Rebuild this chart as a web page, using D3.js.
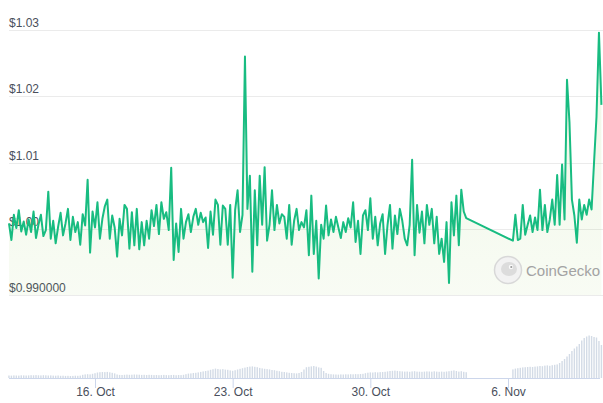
<!DOCTYPE html>
<html>
<head>
<meta charset="utf-8">
<script src="https://cdn.jsdelivr.net/npm/d3@7"></script>
<style>
  body { margin: 0; background: #fff; }
  text { font-family: "Liberation Sans", Arial, sans-serif; }
</style>
</head>
<body>
<div id="chart"></div>
<script>
const width = 603, height = 403;

// series sampled every 3 hours, starting 11 Oct 15:00
const startDate = new Date(2023, 9, 11, 15);
const stepHours = 3;

const prices = [
  1.0008, 0.9983, 1.0021, 1.0001, 1.0028, 0.9996, 1.0011, 0.9991,
  1.0014, 0.9995, 1.0026, 0.9986, 1.0006, 1.0021, 0.9989, 0.9998,
  1.0056, 0.9985, 1.0012, 0.9978, 1.0003, 1.0024, 0.9990, 1.0008,
  1.0030, 0.9983, 1.0018, 0.9995, 1.0010, 0.9976, 1.0022, 1.0005,
  1.0074, 0.9964, 1.0026, 1.0002, 1.0040, 0.9985, 1.0015, 1.0034,
  1.0044, 0.9985, 1.0020, 1.0002, 0.9958, 1.0015, 0.9990, 1.0036,
  1.0030, 0.9970, 1.0025, 0.9975, 1.0030, 0.9969, 1.0010, 0.9975,
  1.0012, 0.9985, 1.0028, 1.0004, 1.0036, 0.9992, 1.0040, 1.0015,
  1.0025, 0.9998, 1.0092, 0.9953, 1.0008, 0.9965, 1.0030, 0.9985,
  1.0010, 1.0022, 0.9995, 1.0018, 1.0030, 1.0006, 1.0024, 1.0010,
  1.0017, 0.9971, 1.0026, 0.9991, 1.0044, 1.0036, 0.9976, 1.0035,
  1.0030, 0.9976, 1.0036, 0.9926, 1.0028, 1.0058, 0.9995, 1.0021,
  1.0260, 1.0030, 1.0080, 0.9935, 1.0058, 0.9975, 1.0080, 1.0006,
  1.0093, 0.9982, 1.0006, 1.0058, 0.9998, 1.0036, 1.0008, 1.0022,
  1.0018, 0.9985, 1.0036, 0.9976, 1.0012, 1.0030, 0.9998, 1.0010,
  1.0002, 1.0028, 0.9960, 1.0050, 0.9962, 1.0012, 0.9925, 1.0006,
  0.9985, 1.0035, 0.9990, 1.0014, 0.9995, 1.0018, 1.0002, 0.9986,
  1.0010, 0.9995, 1.0016, 1.0002, 1.0040, 0.9980, 1.0012, 0.9962,
  1.0020, 1.0028, 0.9998, 1.0046, 0.9985, 1.0018, 0.9975, 1.0008,
  1.0022, 0.9962, 1.0006, 1.0036, 0.9970, 1.0020, 0.9992, 1.0030,
  1.0012, 0.9985, 0.9975, 1.0006, 1.0104, 0.9960, 1.0036, 0.9994,
  1.0026, 0.9978, 1.0036, 1.0006, 1.0030, 0.9978, 1.0018, 0.9962,
  0.9985, 0.9950, 1.0010, 0.9918, 1.0040, 0.9990, 1.0050, 0.9975,
  1.0059, 1.0026, 1.0016, null, null, null, null, null,
  null, null, null, null, null, null, null, null,
  null, null, null, null, null, 0.9982, 1.0021, 0.9983,
  0.9985, 1.0036, 0.9991, 1.0006, 1.0020, 0.9995, 1.0017, 0.9998,
  1.0059, 0.9998, 1.0036, 0.9995, 1.0014, 1.0044, 1.0006, 1.0081,
  1.0006, 1.0097, 1.0014, 1.0225, 1.0161, 1.0044, 1.0020, 0.9979,
  1.0044, 1.0014, 1.0036, 1.0021, 1.0044, 1.0029, 1.0100, 1.0169,
  1.0296, 1.0187
];

// volume in millions, same 3-hour steps
const volumes = [
  2.5, 2.4, 2.6, 2.5, 2.4, 2.7, 2.6, 2.5,
  2.6, 2.8, 2.7, 2.9, 2.7, 2.6, 2.8, 2.7,
  2.5, 2.6, 2.4, 2.3, 2.5, 2.2, 2.3, 2.1,
  2.2, 2.0, 2.1, 2.3, 2.2, 2.4, 3.2, 3.6,
  3.8, 3.6, 4.2, 4.8, 5.5, 5.8, 6.0, 5.9,
  6.1, 5.7, 5.2, 4.6, 3.5, 3.1, 3.0, 3.2,
  3.4, 3.2, 3.3, 3.5, 3.4, 3.3, 3.1, 3.2,
  3.0, 3.2, 3.1, 2.9, 3.0, 2.8, 2.9, 3.1,
  2.9, 2.8, 3.0, 3.1, 2.8, 3.0, 2.9, 3.2,
  3.8, 4.4, 4.6, 5.0, 5.2, 5.6, 6.1, 6.6,
  7.0, 7.4, 8.2, 8.8, 9.4, 9.0, 8.6, 8.9,
  8.4, 8.2, 7.6, 7.2, 7.8, 8.5, 9.2, 9.8,
  10.4, 11.0, 11.4, 11.6, 11.2, 10.8, 10.1, 9.6,
  9.2, 8.9, 8.6, 8.0, 7.8, 7.2, 6.8, 6.2,
  6.0, 5.6, 5.2, 5.0, 4.8, 4.6, 5.0, 6.0,
  8.5, 10.8, 11.2, 11.6, 12.0, 11.4, 10.6, 10.2,
  7.0, 5.0, 4.2, 3.8, 3.6, 3.5, 3.4, 3.6,
  3.5, 3.7, 3.6, 3.8, 3.7, 3.9, 3.8, 4.0,
  4.2, 4.8, 5.3, 5.6, 5.5, 5.8, 5.6, 5.9,
  6.0, 6.2, 6.6, 7.0, 7.2, 7.4, 7.1, 6.8,
  6.6, 6.4, 6.5, 6.2, 6.6, 6.8, 6.4, 6.3,
  6.2, 6.4, 6.6, 6.5, 6.3, 6.7, 6.4, 6.2,
  6.4, 6.2, 6.5, 6.8, 7.2, 7.6, 7.0, 6.4,
  6.8, 6.2, 5.8, null, null, null, null, null,
  null, null, null, null, null, null, null, null,
  null, null, null, null, null, 8.6, 9.4, 9.8,
  10.2, 10.6, 10.8, 11.0, 11.2, 11.0, 11.4, 11.6,
  12.0, 11.8, 12.4, 12.6, 12.2, 12.8, 13.2, 13.6,
  15.0, 17.0, 19.0, 21.5, 24.0, 27.0, 29.5, 31.5,
  34.0, 37.5, 40.0, 41.5, 42.5, 42.0, 41.0, 40.5,
  37.0, 33.0
];

const yTicks = [0.99, 1.00, 1.01, 1.02, 1.03];
const yTickLabels = ["$0.990000", "$1.00", "$1.01", "$1.02", "$1.03"];
const xTickDates = [new Date(2023, 9, 16), new Date(2023, 9, 23), new Date(2023, 9, 30), new Date(2023, 10, 6)];
const xTickLabels = ["16. Oct", "23. Oct", "30. Oct", "6. Nov"];

const timeAt = i => new Date(startDate.getTime() + i * stepHours * 3600e3);

const priceData = prices.map((p, i) => ({ t: timeAt(i), v: p })).filter(d => d.v !== null);
const volData = volumes.map((v, i) => ({ t: timeAt(i), v: v })).filter(d => d.v !== null);

const svg = d3.select("#chart")
  .append("svg")
  .attr("width", width)
  .attr("height", height);

// x scale pinned to the tick dates
const x = d3.scaleTime()
  .domain([xTickDates[0], xTickDates[3]])
  .range([95, 508]);

const y = d3.scaleLinear()
  .domain([0.99, 1.03])
  .range([295, 30]);

const yVol = d3.scaleLinear()
  .domain([0, 100])
  .range([378, 278]);

// gridlines + labels
svg.append("g")
  .selectAll("line")
  .data(yTicks)
  .join("line")
  .attr("x1", 9)
  .attr("x2", width)
  .attr("y1", d => Math.round(y(d)) + 0.5)
  .attr("y2", d => Math.round(y(d)) + 0.5)
  .attr("stroke", "#ebebeb");

svg.append("g")
  .selectAll("text")
  .data(yTicks)
  .join("text")
  .attr("x", 9)
  .attr("y", d => y(d) - 3)
  .attr("font-size", 12)
  .attr("fill", "#4a4f5c")
  .text((d, i) => yTickLabels[i]);

// gradient for price area
const defs = svg.append("defs");
const grad = defs.append("linearGradient")
  .attr("id", "areaFill")
  .attr("x1", 0).attr("x2", 0).attr("y1", 0).attr("y2", 1);
grad.append("stop").attr("offset", "0%").attr("stop-color", "#8dc647").attr("stop-opacity", 0.14);
grad.append("stop").attr("offset", "100%").attr("stop-color", "#8dc647").attr("stop-opacity", 0.06);

const area = d3.area()
  .x(d => x(d.t))
  .y0(y(0.99))
  .y1(d => y(d.v));

svg.append("path")
  .datum(priceData)
  .attr("d", area)
  .attr("fill", "url(#areaFill)");

// volume bars
svg.append("g")
  .selectAll("rect")
  .data(volData)
  .join("rect")
  .attr("x", d => x(d.t) - 0.7)
  .attr("width", 1.4)
  .attr("y", d => yVol(d.v))
  .attr("height", d => yVol(0) - yVol(d.v))
  .attr("fill", "#d3dbe6");

// watermark
const wm = svg.append("g").attr("transform", "translate(508,270)");
wm.append("circle").attr("r", 13.5).attr("fill", "#f2f2f2").attr("stroke", "#d8d8d8").attr("stroke-width", 1.5);
wm.append("ellipse").attr("cx", 1).attr("cy", -1).attr("rx", 8).attr("ry", 7).attr("fill", "#dcdcdc");
wm.append("circle").attr("cx", 3).attr("cy", -3).attr("r", 2.2).attr("fill", "#fafafa");
wm.append("circle").attr("cx", 3.3).attr("cy", -3).attr("r", 1.1).attr("fill", "#9a9a9a");
svg.append("text")
  .attr("x", 526)
  .attr("y", 276)
  .attr("font-size", 15)
  .attr("fill", "#a3a3a3")
  .text("CoinGecko");

// price line
const line = d3.line()
  .x(d => x(d.t))
  .y(d => y(d.v));

svg.append("path")
  .datum(priceData)
  .attr("d", line)
  .attr("fill", "none")
  .attr("stroke", "#18bc81")
  .attr("stroke-width", 2)
  .attr("stroke-linejoin", "round");

// x axis
const xAxis = svg.append("g")
  .attr("transform", "translate(0,378)")
  .call(d3.axisBottom(x)
    .tickValues(xTickDates)
    .tickFormat((d, i) => xTickLabels[i])
    .tickSize(10)
    .tickSizeOuter(0));
xAxis.select(".domain").remove();
xAxis.insert("line", ":first-child")
  .attr("x1", 9).attr("x2", 600)
  .attr("y1", 0.5).attr("y2", 0.5)
  .attr("stroke", "#ccd6eb");
xAxis.selectAll(".tick line").attr("stroke", "#ccd6eb");
xAxis.selectAll(".tick text")
  .attr("font-size", 12)
  .attr("font-family", "Liberation Sans, Arial, sans-serif")
  .attr("fill", "#4a4f5c")
  .attr("dy", "0.71em")
  .attr("y", 9);
</script>
</body>
</html>
